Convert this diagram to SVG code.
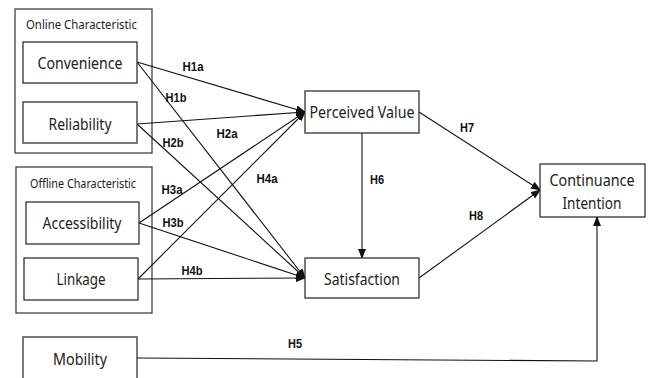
<svg xmlns="http://www.w3.org/2000/svg" width="661" height="378" viewBox="0 0 661 378">
<style>
.box{fill:#fff;stroke:#222;stroke-width:1.2}
.grp{fill:none;stroke:#333;stroke-width:1.2}
.nt{font-family:"Noto Sans","Open Sans",sans-serif;font-size:16px;fill:#222;text-anchor:middle}
.gt{font-family:"Noto Sans","Open Sans",sans-serif;font-size:12.5px;fill:#222}
.lb{font-family:"Liberation Sans",Arial,sans-serif;font-size:12.5px;font-weight:bold;fill:#111;text-anchor:middle}
.cn{fill:none;stroke:#111;stroke-width:1.1}
</style>
<defs>
<marker id="ah" markerWidth="10" markerHeight="8" refX="9" refY="4" orient="auto" markerUnits="userSpaceOnUse">
<path d="M0,0 L10,4 L0,8 Z" fill="#111"/>
</marker>
</defs>
<rect width="661" height="378" fill="#fff"/>
<g id="online-group">
<rect class="grp" x="15" y="9" width="137" height="144"/>
<text class="gt" x="26" y="29" textLength="111" lengthAdjust="spacingAndGlyphs">Online  Characteristic</text>
</g>
<g id="offline-group">
<rect class="grp" x="16" y="167" width="136" height="146"/>
<text class="gt" x="30" y="188" textLength="106" lengthAdjust="spacingAndGlyphs">Offline Characteristic</text>
</g>
<g id="connectors">
<line class="cn" x1="137" y1="62" x2="305" y2="112" marker-end="url(#ah)"/>
<line class="cn" x1="137" y1="62" x2="305" y2="278" marker-end="url(#ah)"/>
<line class="cn" x1="137" y1="124" x2="305" y2="112" marker-end="url(#ah)"/>
<line class="cn" x1="137" y1="124" x2="305" y2="278" marker-end="url(#ah)"/>
<line class="cn" x1="139" y1="223" x2="305" y2="112" marker-end="url(#ah)"/>
<line class="cn" x1="139" y1="223" x2="305" y2="278" marker-end="url(#ah)"/>
<line class="cn" x1="138" y1="279" x2="305" y2="112" marker-end="url(#ah)"/>
<line class="cn" x1="138" y1="279" x2="305" y2="278" marker-end="url(#ah)"/>
<line class="cn" x1="362" y1="133" x2="362" y2="258" marker-end="url(#ah)"/>
<line class="cn" x1="419" y1="112" x2="540" y2="190" marker-end="url(#ah)"/>
<line class="cn" x1="419" y1="278" x2="540" y2="190" marker-end="url(#ah)"/>
<polyline class="cn" points="137,358 597,361 597,217" marker-end="url(#ah)"/>
<text class="lb" x="193" y="71" textLength="21" lengthAdjust="spacingAndGlyphs">H1a</text>
<text class="lb" x="176" y="102" textLength="21" lengthAdjust="spacingAndGlyphs">H1b</text>
<text class="lb" x="227" y="138" textLength="21" lengthAdjust="spacingAndGlyphs">H2a</text>
<text class="lb" x="173" y="147" textLength="21" lengthAdjust="spacingAndGlyphs">H2b</text>
<text class="lb" x="172" y="194" textLength="21" lengthAdjust="spacingAndGlyphs">H3a</text>
<text class="lb" x="267" y="183" textLength="21" lengthAdjust="spacingAndGlyphs">H4a</text>
<text class="lb" x="173" y="227" textLength="21" lengthAdjust="spacingAndGlyphs">H3b</text>
<text class="lb" x="192" y="275" textLength="21" lengthAdjust="spacingAndGlyphs">H4b</text>
<text class="lb" x="295" y="348" textLength="14" lengthAdjust="spacingAndGlyphs">H5</text>
<text class="lb" x="377" y="184" textLength="14" lengthAdjust="spacingAndGlyphs">H6</text>
<text class="lb" x="467" y="132" textLength="14" lengthAdjust="spacingAndGlyphs">H7</text>
<text class="lb" x="476" y="220" textLength="14" lengthAdjust="spacingAndGlyphs">H8</text>
</g>
<g id="convenience">
<rect class="box" x="23" y="42" width="114" height="41"/>
<text class="nt" x="80" y="69" textLength="85" lengthAdjust="spacingAndGlyphs">Convenience</text>
</g>
<g id="reliability">
<rect class="box" x="23" y="102" width="114" height="41"/>
<text class="nt" x="80" y="130" textLength="63" lengthAdjust="spacingAndGlyphs">Reliability</text>
</g>
<g id="accessibility">
<rect class="box" x="26" y="202" width="113" height="42"/>
<text class="nt" x="82" y="229" textLength="79" lengthAdjust="spacingAndGlyphs">Accessibility</text>
</g>
<g id="linkage">
<rect class="box" x="24" y="258" width="114" height="42"/>
<text class="nt" x="81" y="285" textLength="49" lengthAdjust="spacingAndGlyphs">Linkage</text>
</g>
<g id="mobility">
<rect class="box" x="23" y="337" width="114" height="45"/>
<text class="nt" x="80" y="365" textLength="54" lengthAdjust="spacingAndGlyphs">Mobility</text>
</g>
<g id="perceived-value">
<rect class="box" x="305" y="91" width="114" height="42"/>
<text class="nt" x="362" y="118" textLength="105" lengthAdjust="spacingAndGlyphs">Perceived Value</text>
</g>
<g id="satisfaction">
<rect class="box" x="305" y="258" width="114" height="40"/>
<text class="nt" x="362" y="285" textLength="76" lengthAdjust="spacingAndGlyphs">Satisfaction</text>
</g>
<g id="continuance-intention">
<rect class="box" x="540" y="164" width="105" height="53"/>
<text class="nt" x="592" y="186" textLength="85" lengthAdjust="spacingAndGlyphs">Continuance</text>
<text class="nt" x="592" y="209" textLength="59" lengthAdjust="spacingAndGlyphs">Intention</text>
</g>
</svg>
